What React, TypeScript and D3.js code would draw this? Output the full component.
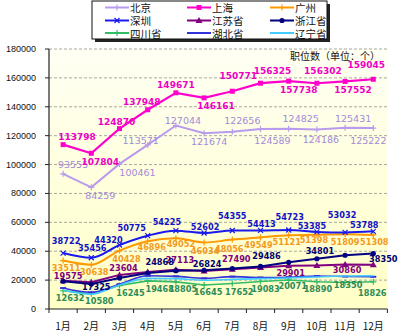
import React from 'react';
import * as d3 from 'd3';

const MONTHS = ['1月', '2月', '3月', '4月', '5月', '6月', '7月', '8月', '9月', '10月', '11月', '12月'];
const Y_TICKS = [0, 20000, 40000, 60000, 80000, 100000, 120000, 140000, 160000, 180000];
const UNIT_TEXT = '职位数（单位：个）';

const BEIJING = [93555, 84259, 100461, 113571, 127044, 121674, 122656, 124589, 124825, 124186, 125431, 125222];
const SHANGHAI = [113798, 107804, 124870, 137948, 149671, 146161, 150771, 156325, 157738, 156302, 157552, 159045];
const GUANGZHOU = [33511, 30638, 40428, 46896, 49052, 46034, 48056, 49549, 51121, 51398, 51809, 51308];
const SHENZHEN = [38722, 35456, 44320, 50775, 54225, 52602, 54355, 54413, 54723, 53385, 53032, 53788];
const JIANGSU = [19575, 18600, 23604, 25600, 27113, 26300, 27490, 28800, 29901, 30200, 30860, 30700];
const ZHEJIANG = [19200, 17325, 21500, 24868, 26500, 26824, 28000, 29486, 32300, 34801, 37200, 38350];
const SICHUAN = [12632, 10580, 16245, 19468, 18805, 16645, 17652, 19083, 20071, 18890, 18350, 18826];
const HUBEI = [14500, 11500, 17200, 23000, 22600, 21200, 22400, 21800, 22000, 22800, 22500, 22300];
const LIAONING = [13200, 10200, 16600, 21200, 21000, 19900, 20500, 21000, 21500, 22200, 22800, 23000];

// label nudges (dx, dy) from each point; null = no label shown
const N_BJ = [[10, -9], [9, 8], [18, 9], [-7, -4], [7, -5], [5, 8], [10, -11], [12, 11], [12, -10], [4, 10], [8, -9], [-5, 12]];
const N_SH = [[14, -8], [9, 9], [-3, -7], [-6, -8], [0, -8], [12, 8], [6, -15], [12, -12], [10, 9], [6, -12], [8, 9], [-7, -14]];
const N_GZ = [[3, 7], [3, 7], [7, 8], [4, 6], [5, 6], [1, 8], [-3, 9], [-2, 8], [-2, 7], [-3, 5], [0, 8], [1, 7]];
const N_SZ = [[3, -12], [1, -10], [-11, -5], [-16, -8], [-9, -9], [1, -6], [0, -14], [1, -6], [1, -13], [-5, -6], [-3, -17], [-9, -6]];
const N_JS = [[5, -5], null, [4, -7], null, [4, -10], null, [4, -10], null, [2, 7], null, [2, 6], null];
const N_ZJ = [null, [5, 3], null, [12, -11], null, [3, -6], null, [6, -10], null, [3, -8], null, [10, 5]];
const N_SC = [[7, 7], [8, 7], [11, 7], [12, 8], [7, 7], [4, 7], [7, 8], [5, 8], [4, 6], [1, 7], [3, 3], [-1, 11]];

type S = {
  name: string; values: number[]; color: string; labelColor: string; marker: string;
  curve: any; nudges: (number[] | null)[] | null; fs: number; fw: string; width: number;
};

const SERIES: S[] = [
  { name: '北京', values: BEIJING, color: '#b99bee', labelColor: '#a28ad8', marker: 'plus', curve: d3.curveLinear, nudges: N_BJ, fs: 9.5, fw: 'normal', width: 2 },
  { name: '上海', values: SHANGHAI, color: '#ff00cc', labelColor: '#ee00c4', marker: 'square', curve: d3.curveLinear, nudges: N_SH, fs: 9, fw: 'bold', width: 2.2 },
  { name: '广州', values: GUANGZHOU, color: '#ff9900', labelColor: '#f39a1e', marker: 'plus', curve: d3.curveMonotoneX, nudges: N_GZ, fs: 8.2, fw: 'bold', width: 2 },
  { name: '深圳', values: SHENZHEN, color: '#1a1aee', labelColor: '#1212c8', marker: 'x', curve: d3.curveMonotoneX, nudges: N_SZ, fs: 8.2, fw: 'bold', width: 2 },
  { name: '江苏省', values: JIANGSU, color: '#800080', labelColor: '#800080', marker: 'tri', curve: d3.curveLinear, nudges: N_JS, fs: 8.2, fw: 'bold', width: 2 },
  { name: '浙江省', values: ZHEJIANG, color: '#000080', labelColor: '#000070', marker: 'dot', curve: d3.curveLinear, nudges: N_ZJ, fs: 8.2, fw: 'bold', width: 2 },
  { name: '四川省', values: SICHUAN, color: '#33bb66', labelColor: '#2e8b57', marker: 'plus', curve: d3.curveLinear, nudges: N_SC, fs: 8.2, fw: 'bold', width: 1.6 },
  { name: '湖北省', values: HUBEI, color: '#3333dd', labelColor: '#3333dd', marker: 'dash', curve: d3.curveMonotoneX, nudges: null, fs: 8.2, fw: 'bold', width: 1.6 },
  { name: '辽宁省', values: LIAONING, color: '#44ccff', labelColor: '#44ccff', marker: 'none', curve: d3.curveMonotoneX, nudges: null, fs: 8.2, fw: 'bold', width: 1.6 },
];

function Marker({ type, x, y, color }: { type: string; x: number; y: number; color: string }) {
  switch (type) {
    case 'square':
      return <rect x={x - 2.5} y={y - 2.5} width={5} height={5} fill={color} />;
    case 'plus':
      return <path d={`M${x - 3},${y}H${x + 3}M${x},${y - 3}V${y + 3}`} stroke={color} strokeWidth={1.2} />;
    case 'x':
      return <path d={`M${x - 2.5},${y - 2.5}L${x + 2.5},${y + 2.5}M${x - 2.5},${y + 2.5}L${x + 2.5},${y - 2.5}`} stroke={color} strokeWidth={1.2} />;
    case 'tri':
      return <path d={`M${x},${y - 3.5}L${x + 3.5},${y + 2.5}L${x - 3.5},${y + 2.5}Z`} fill={color} />;
    case 'dot':
      return <circle cx={x} cy={y} r={2.6} fill={color} />;
    case 'dash':
      return <path d={`M${x - 3},${y}H${x + 3}`} stroke={color} strokeWidth={2} />;
    default:
      return null;
  }
}

export default function App() {
  const W = 400, H = 334;
  const left = 49, right = 387.4, top = 49, bottom = 309;
  const x = d3.scaleBand<string>().domain(MONTHS).range([left, right]).padding(0);
  const y = d3.scaleLinear().domain([0, 180000]).range([bottom, top]);
  const cx = (m: string) => (x(m) as number) + x.bandwidth() / 2;

  const labelFont = 'DejaVu Sans, Verdana, sans-serif';
  const cjk = '"Noto Sans CJK SC", sans-serif';

  const legendCols = [105, 187, 270];
  const legendRows = [7.5, 20.5, 33];

  return (
    <svg width={W} height={H} style={{ position: 'absolute', left: 0, top: 0, background: '#fff' }}>
      <defs>
        <linearGradient id="bg" x1="0" y1="0" x2="0" y2="1">
          <stop offset="0" stopColor="#fffff4" />
          <stop offset="1" stopColor="#ffffc6" />
        </linearGradient>
      </defs>
      <rect x={left} y={top} width={right - left} height={bottom - top} fill="url(#bg)" />
      {/* gridlines */}
      {Y_TICKS.filter(t => t > 0).map(t => (
        <line key={t} x1={left} x2={right} y1={y(t)} y2={y(t)} stroke="#a8a8a0" strokeWidth={1} strokeDasharray="3,2" />
      ))}
      {/* y axis */}
      <line x1={left} x2={left} y1={top} y2={bottom} stroke="#222" strokeWidth={1.2} />
      {Y_TICKS.map(t => (
        <g key={t}>
          <line x1={left - 4} x2={left} y1={y(t)} y2={y(t)} stroke="#222" />
          <text x={36} y={y(t)} textAnchor="end" dominantBaseline="central" fontSize={9} fontFamily="Liberation Sans, Arial, sans-serif" fill="#111">{t}</text>
        </g>
      ))}
      {/* x axis */}
      <line x1={left} x2={right} y1={bottom} y2={bottom} stroke="#222" strokeWidth={1.2} />
      {MONTHS.map((m, i) => (
        <g key={m}>
          <line x1={(x(m) as number) + x.bandwidth()} x2={(x(m) as number) + x.bandwidth()} y1={bottom} y2={bottom + 4} stroke="#222" />
          <text x={cx(m)} y={325} textAnchor="middle" dominantBaseline="central" fontSize={10} fontFamily={cjk} fill="#111">{m}</text>
        </g>
      ))}
      <line x1={left} x2={left} y1={bottom} y2={bottom + 4} stroke="#222" />
      <text x={380} y={55} textAnchor="end" dominantBaseline="central" fontSize={10} fontFamily={cjk} fill="#111">{UNIT_TEXT}</text>

      {/* lines */}
      {SERIES.map(s => {
        const line = d3.line<number>().x((_, i) => cx(MONTHS[i])).y(v => y(v)).curve(s.curve);
        return (
          <g key={s.name}>
            <path d={line(s.values) || ''} fill="none" stroke={s.color} strokeWidth={s.width} />
            {s.values.map((v, i) => <Marker key={i} type={s.marker} x={cx(MONTHS[i])} y={y(v)} color={s.color} />)}
          </g>
        );
      })}
      {/* labels */}
      {SERIES.map(s => s.nudges ? (
        <g key={s.name + 'l'}>
          {s.values.map((v, i) => {
            const n = s.nudges![i];
            if (!n) return null;
            return (
              <text key={i} x={cx(MONTHS[i]) + n[0]} y={y(v) + n[1]} textAnchor="middle" dominantBaseline="central"
                fontSize={s.fs} fontWeight={s.fw} fontFamily={labelFont} fill={s.labelColor}>{v}</text>
            );
          })}
        </g>
      ) : null)}

      {/* legend */}
      <rect x={95} y={4} width={235} height={38} fill="#222" />
      <rect x={92} y={1} width={235} height={38} fill="#fff" stroke="#111" strokeWidth={1} />
      {SERIES.map((s, i) => {
        const lx = legendCols[i % 3];
        const ly = legendRows[Math.floor(i / 3)];
        return (
          <g key={s.name + 'lg'}>
            <line x1={lx} x2={lx + 24} y1={ly} y2={ly} stroke={s.color} strokeWidth={2} />
            <Marker type={s.marker} x={lx + 12} y={ly} color={s.color} />
            <text x={lx + 25} y={ly} dominantBaseline="central" fontSize={10.5} fontFamily={cjk} fill="#111">{s.name}</text>
          </g>
        );
      })}
    </svg>
  );
}
